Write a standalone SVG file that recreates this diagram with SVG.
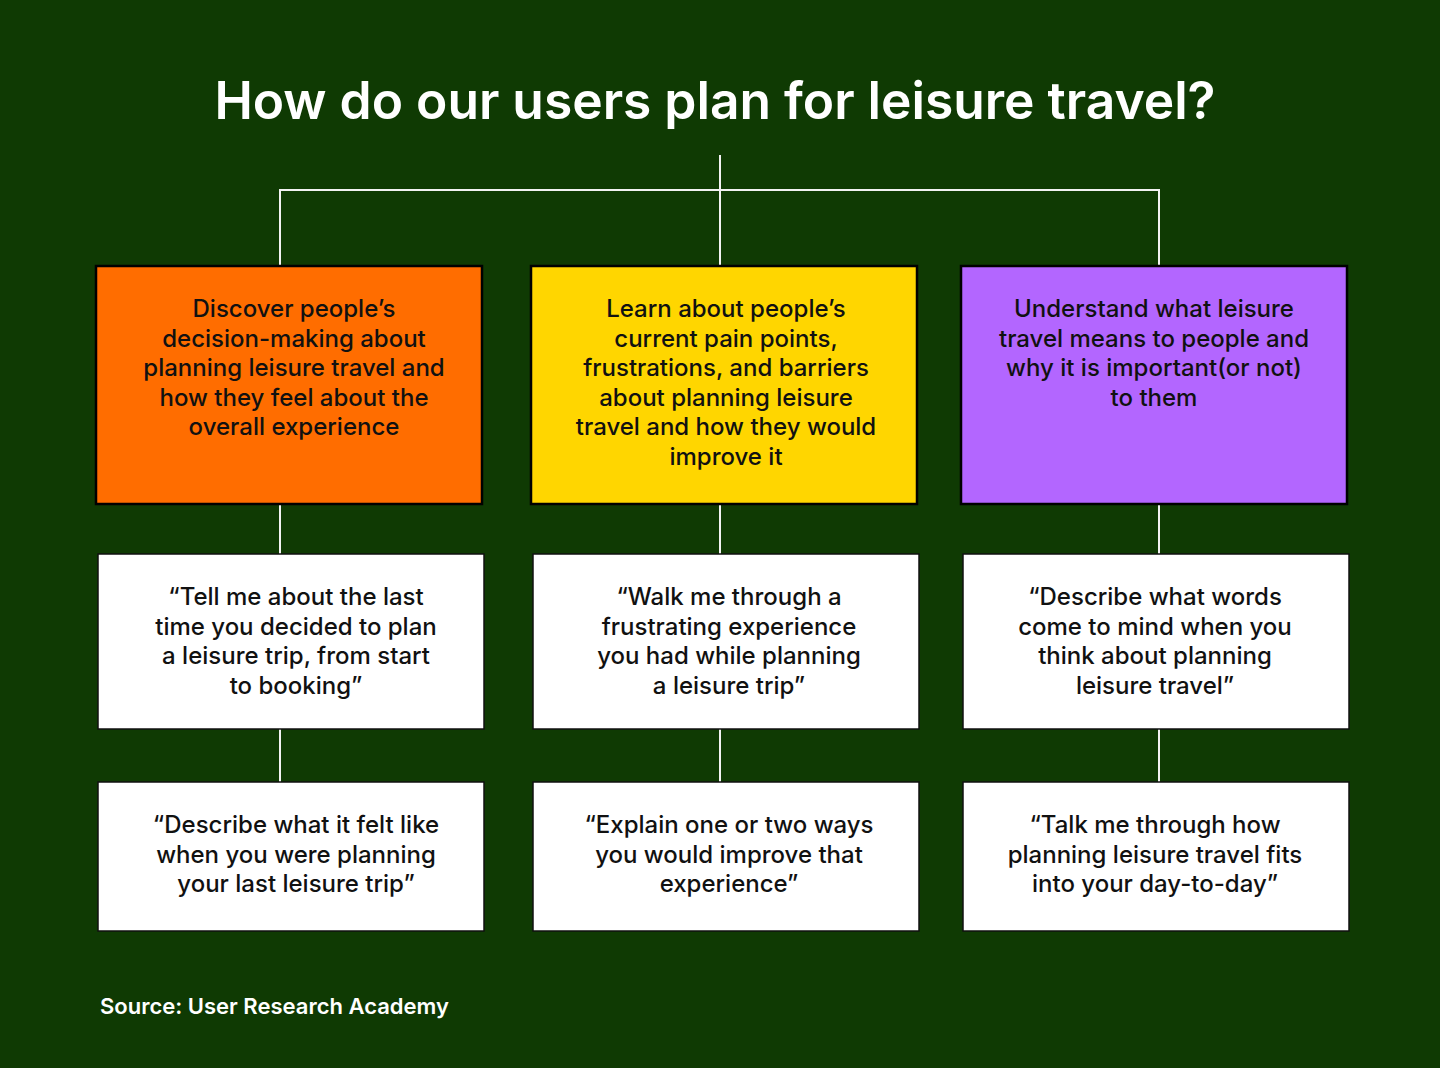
<svg xmlns="http://www.w3.org/2000/svg" width="1440" height="1068" viewBox="0 0 1440 1068">
<style>
.bg{fill:#0f3a03}
.top{stroke:#000;stroke-width:2.5}
.q{fill:#fff;stroke:#111;stroke-width:1.5}
.t{font-family:Inter,"Noto Sans",sans-serif;font-size:24px;font-weight:500;fill:#111;text-anchor:middle}
.title{font-family:Inter,"Noto Sans",sans-serif;font-size:51.5px;font-weight:600;fill:#fff;text-anchor:middle}
.src{font-family:Inter,"Noto Sans",sans-serif;font-size:22px;font-weight:600;fill:#fff}
.c{stroke:#f2f2f2;stroke-width:2;fill:none}
</style>
<rect class="bg" x="0" y="0" width="1440" height="1068"/>
<text class="title" x="715" y="119">How do our users plan for leisure travel?</text>
<g id="connectors">
<path class="c" d="M720 155V266M280 266V190H1159V266"/>
<path class="c" d="M280 505V554M720 505V554M1159 505V554"/>
<path class="c" d="M280 729V782M720 729V782M1159 729V782"/>
</g>
<g id="goal1">
<rect class="top" x="96" y="266" width="386" height="238" fill="#ff6d00"/>
<text class="t"><tspan x="294" y="317">Discover people’s</tspan><tspan x="294" y="346.5">decision-making about</tspan><tspan x="294" y="376">planning leisure travel and</tspan><tspan x="294" y="405.5">how they feel about the</tspan><tspan x="294" y="435">overall experience</tspan></text>
</g>
<g id="goal2">
<rect class="top" x="531" y="266" width="386" height="238" fill="#ffd600"/>
<text class="t"><tspan x="726" y="317">Learn about people’s</tspan><tspan x="726" y="346.5">current pain points,</tspan><tspan x="726" y="376">frustrations, and barriers</tspan><tspan x="726" y="405.5">about planning leisure</tspan><tspan x="726" y="435">travel and how they would</tspan><tspan x="726" y="464.5">improve it</tspan></text>
</g>
<g id="goal3">
<rect class="top" x="961" y="266" width="386" height="238" fill="#b366ff"/>
<text class="t"><tspan x="1154" y="317">Understand what leisure</tspan><tspan x="1154" y="346.5">travel means to people and</tspan><tspan x="1154" y="376">why it is important(or not)</tspan><tspan x="1154" y="405.5">to them</tspan></text>
</g>
<g id="q1a">
<rect class="q" x="98" y="554" width="386" height="175"/>
<text class="t"><tspan x="296" y="605">“Tell me about the last</tspan><tspan x="296" y="634.5">time you decided to plan</tspan><tspan x="296" y="664">a leisure trip, from start</tspan><tspan x="296" y="693.5">to booking”</tspan></text>
</g>
<g id="q2a">
<rect class="q" x="533" y="554" width="386" height="175"/>
<text class="t"><tspan x="729" y="605">“Walk me through a</tspan><tspan x="729" y="634.5">frustrating experience</tspan><tspan x="729" y="664">you had while planning</tspan><tspan x="729" y="693.5">a leisure trip”</tspan></text>
</g>
<g id="q3a">
<rect class="q" x="963" y="554" width="386" height="175"/>
<text class="t"><tspan x="1155" y="605">“Describe what words</tspan><tspan x="1155" y="634.5">come to mind when you</tspan><tspan x="1155" y="664">think about planning</tspan><tspan x="1155" y="693.5">leisure travel”</tspan></text>
</g>
<g id="q1b">
<rect class="q" x="98" y="782" width="386" height="149"/>
<text class="t"><tspan x="296" y="833">“Describe what it felt like</tspan><tspan x="296" y="862.5">when you were planning</tspan><tspan x="296" y="892">your last leisure trip”</tspan></text>
</g>
<g id="q2b">
<rect class="q" x="533" y="782" width="386" height="149"/>
<text class="t"><tspan x="729" y="833">“Explain one or two ways</tspan><tspan x="729" y="862.5">you would improve that</tspan><tspan x="729" y="892">experience”</tspan></text>
</g>
<g id="q3b">
<rect class="q" x="963" y="782" width="386" height="149"/>
<text class="t"><tspan x="1155" y="833">“Talk me through how</tspan><tspan x="1155" y="862.5">planning leisure travel fits</tspan><tspan x="1155" y="892">into your day-to-day”</tspan></text>
</g>
<text class="src" x="100" y="1014">Source: User Research Academy</text>
</svg>
